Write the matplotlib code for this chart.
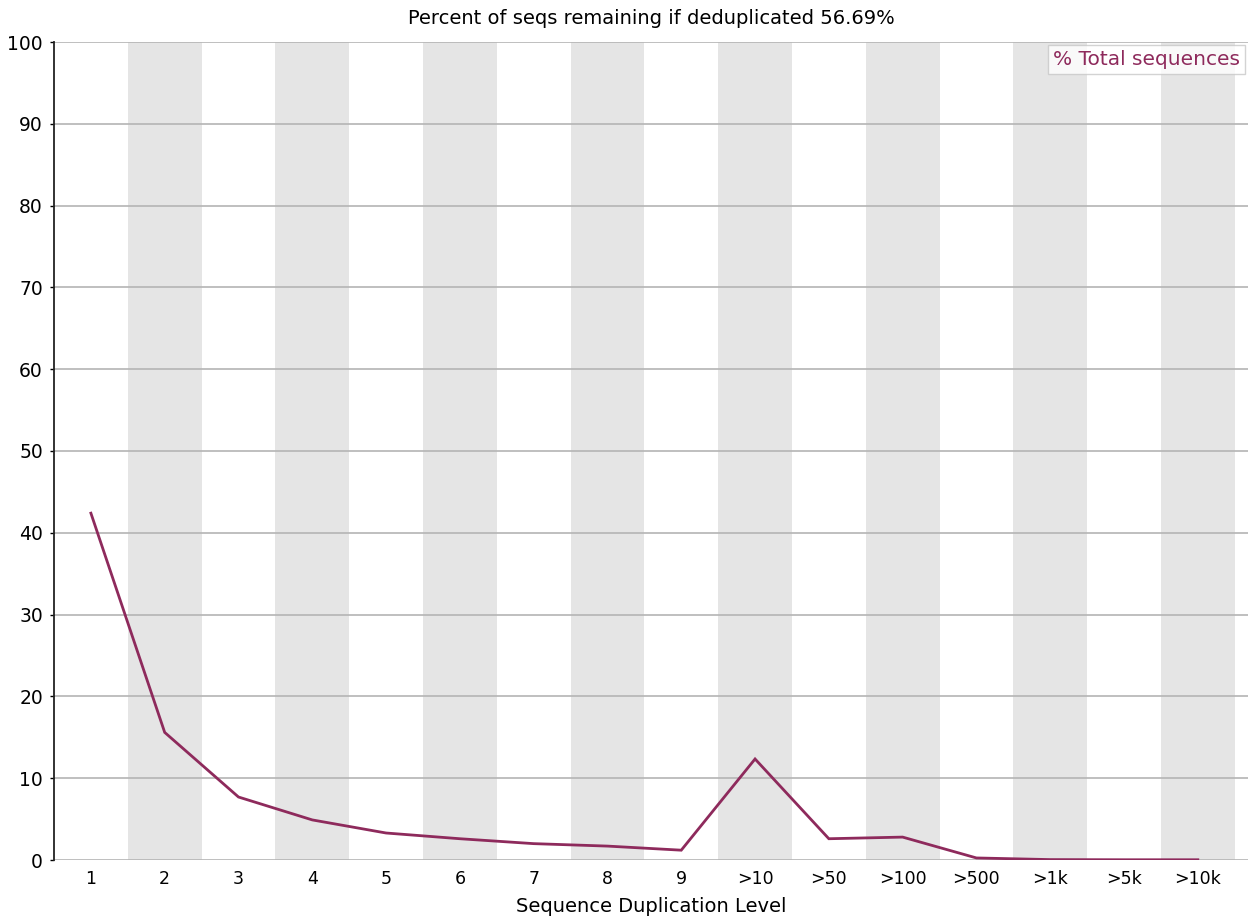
import numpy as np
import matplotlib
matplotlib.use('Agg')
import matplotlib.pyplot as plt

levels = ['1', '2', '3', '4', '5', '6', '7', '8', '9',
          '>10', '>50', '>100', '>500', '>1k', '>5k', '>10k']
pct_total = [42.4, 15.6, 7.7, 4.9, 3.3, 2.6, 2.0, 1.7, 1.2,
             12.35, 2.6, 2.8, 0.25, 0.05, 0.03, 0.03]
remaining_pct = 56.69

line_color = '#8e2a5c'
band_color = '#e5e5e5'
grid_color = '#b4b4b4'

fig = plt.figure(figsize=(12.52, 9.19), dpi=100)
ax = fig.add_axes([54 / 1252, 59 / 919, (1248 - 54) / 1252, (860 - 42) / 919])

x = np.arange(len(levels))

# alternating grey bands behind every other category
for i in x:
    if i % 2 == 1:
        ax.axvspan(i - 0.5, i + 0.5, color=band_color, lw=0, zorder=0)

for yv in range(0, 101, 10):
    ax.axhline(yv, color=grid_color, lw=1.2, zorder=1)

ax.plot(x, pct_total, color=line_color, lw=2.0, zorder=3,
        solid_joinstyle='miter', label='% Total sequences')

ax.set_xlim(-0.5, len(levels) - 0.5 + 0.18)
ax.set_ylim(0, 100)
ax.set_xticks(x)
ax.set_xticklabels(levels)
ax.set_yticks(range(0, 101, 10))
ax.tick_params(axis='x', length=0, labelsize=12.5, pad=7)
ax.tick_params(axis='y', length=3, width=1, labelsize=13.5, pad=5)

for side in ['top', 'right', 'bottom']:
    ax.spines[side].set_visible(False)
ax.spines['left'].set_linewidth(1.3)
ax.spines['left'].set_color('#222222')

ax.set_title(f'Percent of seqs remaining if deduplicated {remaining_pct:.2f}%',
             fontsize=14, pad=13)
ax.set_xlabel('Sequence Duplication Level', fontsize=14, labelpad=7)

leg = ax.legend(loc='upper right', handlelength=0, handletextpad=0,
                fontsize=14.5, frameon=True, fancybox=False,
                borderpad=0.25, borderaxespad=0.15,
                bbox_to_anchor=(1.0, 1.0))
leg.get_frame().set_edgecolor('#c8c8c8')
leg.get_frame().set_linewidth(1)
for text in leg.get_texts():
    text.set_color(line_color)
for h in leg.legend_handles:
    h.set_visible(False)

fig.savefig('out.png', dpi=100)
